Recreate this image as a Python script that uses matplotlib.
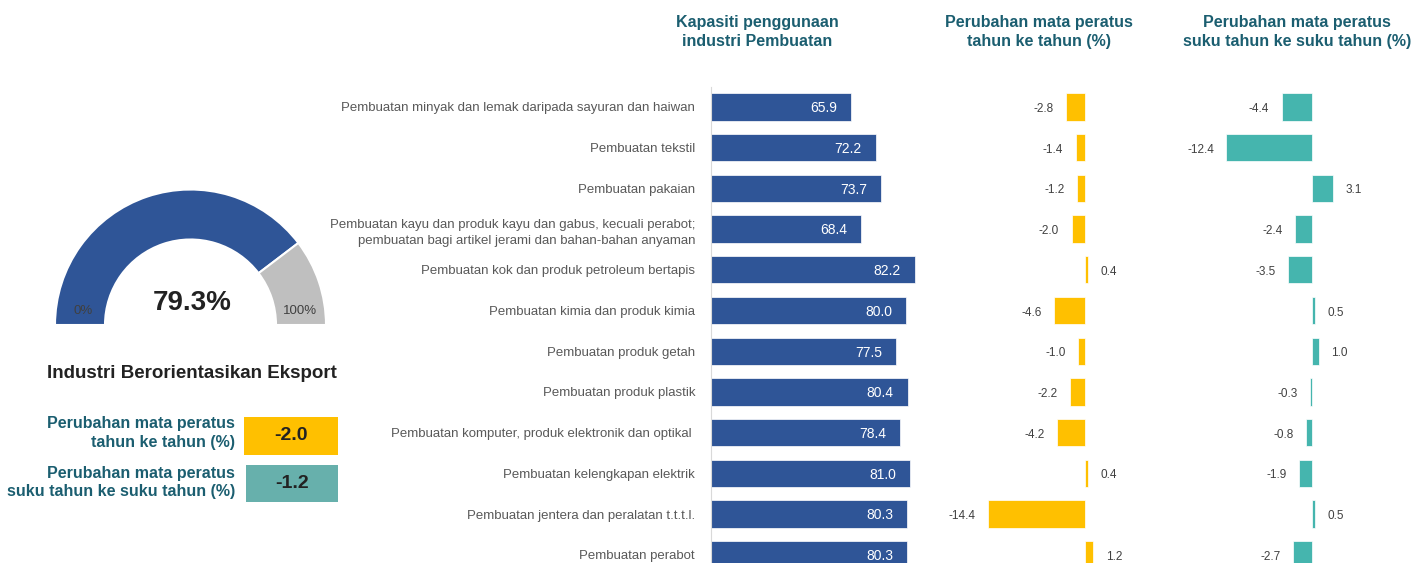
import numpy as np
import matplotlib.pyplot as plt
from matplotlib.patches import Wedge, Rectangle

plt.rcParams['font.family'] = ['Liberation Sans', 'DejaVu Sans']

# data
categories = [
    "Pembuatan minyak dan lemak daripada sayuran dan haiwan",
    "Pembuatan tekstil",
    "Pembuatan pakaian",
    "Pembuatan kayu dan produk kayu dan gabus, kecuali perabot;\npembuatan bagi artikel jerami dan bahan-bahan anyaman",
    "Pembuatan kok dan produk petroleum bertapis",
    "Pembuatan kimia dan produk kimia",
    "Pembuatan produk getah",
    "Pembuatan produk plastik",
    "Pembuatan komputer, produk elektronik dan optikal ",
    "Pembuatan kelengkapan elektrik",
    "Pembuatan jentera dan peralatan t.t.t.l.",
    "Pembuatan perabot",
]
capacity = [65.9, 72.2, 73.7, 68.4, 82.2, 80.0, 77.5, 80.4, 78.4, 81.0, 80.3, 80.3]
yoy = [-2.8, -1.4, -1.2, -2.0, 0.4, -4.6, -1.0, -2.2, -4.2, 0.4, -14.4, 1.2]
qoq = [-4.4, -12.4, 3.1, -2.4, -3.5, 0.5, 1.0, -0.3, -0.8, -1.9, 0.5, -2.7]

gauge_value = 79.3
export_yoy = -2.0
export_qoq = -1.2

BLUE = '#2F5597'
YELLOW = '#FFC000'
TEAL = '#45B5AE'
TEAL_BOX = '#67B0AC'
GREY = '#BFBFBF'
HEAD = '#1B5E70'
TXT = '#404040'
CAT = '#595959'

W, H = 1427, 563
fig = plt.figure(figsize=(W / 100, H / 100), dpi=100)


def px_axes(x0, x1, ytop, ybot):
    # axes placed by pixel coords measured from top-left
    return fig.add_axes([x0 / W, (H - ybot) / H, (x1 - x0) / W, (ybot - ytop) / H])


row0, step = 107, 40.7
ytop = row0 - step / 2
ybot = row0 + step * (len(categories) - 0.5)
y = np.arange(len(categories))

# capacity bars
ax1 = px_axes(711, 945, ytop, ybot)
ax1.barh(y, capacity, height=0.67, color=BLUE, edgecolor='white', linewidth=0.5)
ax1.set_xlim(30, 30 + 234 / 3.9)
ax1.set_ylim(len(categories) - 0.5, -0.5)
for i, v in enumerate(capacity):
    ax1.annotate(f"{v:.1f}", (v, i), xytext=(-10, -1), textcoords='offset points',
                 ha='right', va='center', color='white', fontsize=10)
ax1.set_yticks(y)
ax1.set_yticklabels(categories, fontsize=9.5, color=CAT)
for t in ax1.get_yticklabels():
    t.set_linespacing(1.45)
ax1.tick_params(axis='y', length=0, pad=11.5)
ax1.set_xticks([])
for s in ['top', 'right', 'bottom']:
    ax1.spines[s].set_visible(False)
ax1.spines['left'].set_color('#D9D9D9')


def small_bars(x0, x1, zero, scale, vals, color):
    ax = px_axes(x0, x1, ytop, ybot)
    ax.barh(y, vals, height=0.67, color=color, edgecolor='white', linewidth=0.5)
    ax.set_xlim((x0 - zero) / scale, (x1 - zero) / scale)
    ax.set_ylim(len(vals) - 0.5, -0.5)
    for i, v in enumerate(vals):
        off = 9 if v >= 0 else -9
        ax.annotate(f"{v:.1f}", (v, i), xytext=(off, -1.5), textcoords='offset points',
                    ha='left' if v >= 0 else 'right', va='center', color=TXT, fontsize=8.5)
    ax.axis('off')
    return ax


small_bars(940, 1140, 1085, 6.72, yoy, YELLOW)
small_bars(1165, 1400, 1312, 6.9, qoq, TEAL)

# column headers
for xc, label in [(757, "Kapasiti penggunaan\nindustri Pembuatan"),
                  (1039, "Perubahan mata peratus\ntahun ke tahun (%)"),
                  (1297, "Perubahan mata peratus\nsuku tahun ke suku tahun (%)")]:
    fig.text(xc / W, 1 - 32 / H, label, ha='center', va='center', fontsize=11.5,
             fontweight='bold', color=HEAD, linespacing=1.4)

# gauge
axg = px_axes(40, 340, 180, 330)
axg.set_xlim(0, 300)
axg.set_ylim(0, 150)
axg.axis('off')
cx, cy, r_out, r_in = 150.5, 5, 135.5, 85.5
split = 180 - gauge_value / 100 * 180
axg.add_patch(Wedge((cx, cy), r_out, split, 180, width=r_out - r_in, facecolor=BLUE,
                    edgecolor='white', linewidth=1.5))
axg.add_patch(Wedge((cx, cy), r_out, 0, split, width=r_out - r_in, facecolor=GREY,
                    edgecolor='white', linewidth=1.5))
axg.text(cx + 1.5, cy + 22, f"{gauge_value:.1f}%", ha='center', va='center', fontsize=20,
         fontweight='bold', color='#222222')
axg.text(43, cy + 14, "0%", ha='center', va='center', fontsize=9.5, color=TXT)
axg.text(260, cy + 14, "100%", ha='center', va='center', fontsize=9.5, color=TXT)

fig.text(192 / W, 1 - 374 / H, "Industri Berorientasikan Eksport", ha='center', va='center',
         fontsize=13.5, fontweight='bold', color='#222222')

# summary boxes
axb = fig.add_axes([0, 0, 1, 1])
axb.set_xlim(0, W)
axb.set_ylim(H, 0)
axb.axis('off')
axb.add_patch(Rectangle((244, 417), 94, 38, facecolor=YELLOW, edgecolor='none'))
axb.add_patch(Rectangle((246, 465), 92, 37, facecolor=TEAL_BOX, edgecolor='none'))
axb.text(291, 436, f"{export_yoy:.1f}", ha='center', va='center', fontsize=14,
         fontweight='bold', color='#222222')
axb.text(292, 483.5, f"{export_qoq:.1f}", ha='center', va='center', fontsize=14,
         fontweight='bold', color='#222222')
axb.text(235, 433, "Perubahan mata peratus\ntahun ke tahun (%)", ha='right', va='center',
         fontsize=11.5, fontweight='bold', color=HEAD, linespacing=1.3)
axb.text(235, 482.5, "Perubahan mata peratus\nsuku tahun ke suku tahun (%)", ha='right',
         va='center', fontsize=11.5, fontweight='bold', color=HEAD, linespacing=1.3)

fig.savefig('out.png', dpi=100)
